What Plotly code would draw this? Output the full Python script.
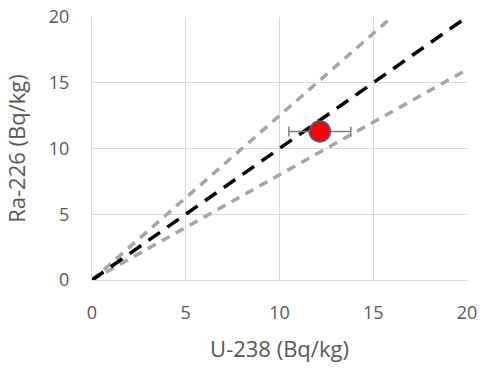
import plotly.graph_objects as go

# Measured sample: U-238 vs Ra-226 activity (Bq/kg)
u238 = [12.15]
ra226 = [11.3]
u238_err = [1.65]

# Reference ratio lines (Ra/U = 1, 1.25, 0.8)
equal_x = [0, 20]
equal_y = [0, 20]
upper_x = [0, 16]
upper_y = [0, 20]
lower_x = [0, 20]
lower_y = [0, 16]

grid = "#D9D9D9"
text_col = "#595959"
font_family = "Open Sans, Liberation Sans, Arial, sans-serif"

fig = go.Figure()
fig.add_trace(go.Scatter(x=upper_x, y=upper_y, mode="lines",
                         line=dict(color="#A6A6A6", width=3.5, dash="9px,7px"),
                         showlegend=False, hoverinfo="skip"))
fig.add_trace(go.Scatter(x=lower_x, y=lower_y, mode="lines",
                         line=dict(color="#A6A6A6", width=3.5, dash="9px,7px"),
                         showlegend=False, hoverinfo="skip"))
fig.add_trace(go.Scatter(x=equal_x, y=equal_y, mode="lines",
                         line=dict(color="#000000", width=3.5, dash="14px,9px"),
                         showlegend=False, hoverinfo="skip"))
fig.add_trace(go.Scatter(x=u238, y=ra226, mode="markers",
                         error_x=dict(type="data", array=u238_err, color="#7F7F7F",
                                      thickness=1.5, width=5),
                         marker=dict(color="#FF0000", size=21,
                                     line=dict(color="#2E6C8E", width=1.5)),
                         showlegend=False))

fig.update_layout(
    width=483, height=372,
    margin=dict(l=92, r=16, t=17, b=92),
    paper_bgcolor="white", plot_bgcolor="white",
    font=dict(family=font_family, size=18, color=text_col),
    xaxis=dict(range=[0, 20], dtick=5, showgrid=True, gridcolor=grid, gridwidth=1.3,
               showline=True, linecolor=grid, linewidth=1.3, mirror=False,
               zeroline=False, ticks="", ticklabelstandoff=16, automargin=False,
               title=dict(text="U-238 (Bq/kg)", standoff=18)),
    yaxis=dict(range=[0, 20], dtick=5, showgrid=True, gridcolor=grid, gridwidth=1.3,
               showline=True, linecolor=grid, linewidth=1.3, automargin=False,
               zeroline=False, ticks="", ticklabelstandoff=18,
               title=dict(text="Ra-226 (Bq/kg)", standoff=16)),
)

fig.write_html("out.html")
